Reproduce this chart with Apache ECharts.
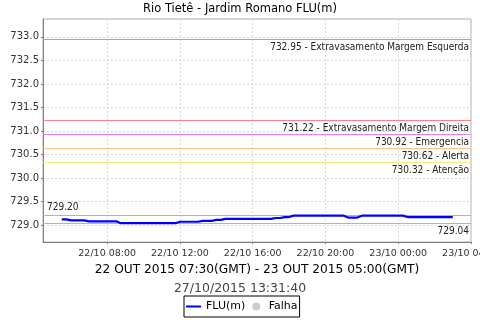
<!DOCTYPE html>
<html>
<head>
<meta charset="utf-8">
<script src="https://cdn.jsdelivr.net/npm/echarts@6/dist/echarts.min.js"></script>
<style>html,body{margin:0;padding:0;background:#fff}#c{width:480px;height:320px}</style>
</head>
<body>
<div id="c"></div>
<script>
// Hours since 22/10/2015 00:00 (local), one reading every 15 minutes
var hours = [5.5,5.75,6,6.25,6.5,6.75,7,7.25,7.5,7.75,8,8.25,8.5,8.75,9,9.25,9.5,9.75,10,10.25,10.5,10.75,11,11.25,11.5,11.75,12,12.25,12.5,12.75,13,13.25,13.5,13.75,14,14.25,14.5,14.75,15,15.25,15.5,15.75,16,16.25,16.5,16.75,17,17.25,17.5,17.75,18,18.25,18.5,18.75,19,19.25,19.5,19.75,20,20.25,20.5,20.75,21,21.25,21.5,21.75,22,22.25,22.5,22.75,23,23.25,23.5,23.75,24,24.25,24.5,24.75,25,25.25,25.5,25.75,26,26.25,26.5,26.75,27];
var levels = [729.12,729.12,
  729.10,729.10,729.10,729.10,
  729.08,729.08,729.08,729.08,729.08,729.08,729.08,
  729.04,729.04,729.04,729.04,729.04,729.04,729.04,729.04,729.04,729.04,729.04,729.04,729.04,
  729.07,729.07,729.07,729.07,729.07,
  729.09,729.09,729.09,
  729.11,729.11,
  729.13,729.13,729.13,729.13,729.13,729.13,729.13,729.13,729.13,729.13,729.13,
  729.15,729.15,
  729.17,729.17,
  729.20,729.20,729.20,729.20,729.20,729.20,729.20,729.20,729.20,729.20,729.20,729.20,
  729.16,729.16,729.16,
  729.20,729.20,729.20,729.20,729.20,729.20,729.20,729.20,729.20,729.20,
  729.17,729.17,729.17,729.17,729.17,729.17,729.17,729.17,729.17,729.17,729.17];
var xTicks = [8,12,16,20,24,28];
var yTicks = [729.0,729.5,730.0,730.5,731.0,731.5,732.0,732.5,733.0];
var thresholdValues = [732.95,731.22,730.92,730.62,730.32];
var thresholdNames = ['Extravasamento Margem Esquerda','Extravasamento Margem Direita','Emergencia','Alerta','Atenção'];
var thresholdColors = ['#ff8080','#ff8080','#f080f0','#ffc080','#ffe880'];
var maxValue = 729.20;
var minValue = 729.04;
var titleText = 'Rio Tietê - Jardim Romano FLU(m)';
var periodText = '22 OUT 2015 07:30(GMT) - 23 OUT 2015 05:00(GMT)';
var stampText = '27/10/2015 13:31:40';

var FONT = "'DejaVu Sans', sans-serif";
var MFONT = "10px 'DejaVu Sans Condensed', 'DejaVu Sans', sans-serif";
var seriesData = hours.map(function (h, i) { return [h, levels[i]]; });
function pad(n){ return (n < 10 ? '0' : '') + n; }
function fmtHour(h) {
  var day = 22 + Math.floor(h / 24);
  var hh = Math.round(h % 24);
  return day + '/10 ' + pad(hh) + ':00';
}

// reference lines: [value, label text, colour, side]
var refLines = thresholdValues.map(function (v, i) {
  return { value: [0, v], text: v.toFixed(2) + ' - ' + thresholdNames[i], color: thresholdColors[i], side: 'right' };
});
refLines.push({ value: [0, maxValue], text: maxValue.toFixed(2), color: '#b4b4b4', side: 'left' });
refLines.push({ value: [0, minValue], text: minValue.toFixed(2), color: '#b4b4b4', side: 'right' });

function renderRefLine(params, api) {
  var cs = params.coordSys;
  var item = refLines[params.dataIndex];
  var y = api.coord([4.47, api.value(1)])[1];
  var yc = Math.floor(y) + 0.5;
  var label = item.side === 'right'
    ? { type: 'text', x: cs.x + cs.width - 2, y: yc + 8,
        style: { text: item.text, font: MFONT, fill: '#222', align: 'right', verticalAlign: 'middle' } }
    : { type: 'text', x: cs.x + 4, y: yc - 8.5,
        style: { text: item.text, font: MFONT, fill: '#222', align: 'left', verticalAlign: 'middle' } };
  return {
    type: 'group',
    children: [
      { type: 'line', shape: { x1: cs.x, y1: yc, x2: cs.x + cs.width, y2: yc },
        style: { stroke: item.color, lineWidth: 1 } },
      label
    ]
  };
}

var chart = echarts.init(document.getElementById('c'), null, { renderer: 'canvas' });
chart.setOption({
  animation: false,
  backgroundColor: '#ffffff',
  title: [
    { text: titleText, left: 'center', top: 3, padding: 0,
      textStyle: { fontFamily: FONT, fontSize: 11.5, fontWeight: 'normal', color: '#000' } },
    { text: stampText, left: 'center', top: 282, padding: 0,
      textStyle: { fontFamily: FONT, fontSize: 12.5, fontWeight: 'normal', color: '#444' } }
  ],
  grid: { left: 43, right: 9, top: 19, bottom: 78, show: true, borderColor: '#b0b0b0', borderWidth: 1,
    outerBoundsMode: 'none', containLabel: false },
  legend: {
    data: [{ name: 'FLU(m)', icon: 'path://M0,0H15V2H0Z' }, { name: 'Falha', icon: 'circle' }],
    left: 184, top: 296, symbolKeepAspect: true,
    borderColor: '#000', borderWidth: 1, padding: [5, 2, 5, 2],
    itemGap: 7, itemWidth: 15, itemHeight: 8,
    textStyle: { fontFamily: FONT, fontSize: 11, color: '#000' }
  },
  xAxis: {
    type: 'value', min: 4.47, max: 28.0,
    name: periodText, nameLocation: 'middle', nameGap: 21,
    nameTextStyle: { fontFamily: FONT, fontSize: 12.2, color: '#000' },
    axisLine: { show: true, lineStyle: { color: '#808080' } },
    axisTick: { show: true, length: 2, customValues: xTicks, lineStyle: { color: '#808080' } },
    axisLabel: { customValues: xTicks, formatter: fmtHour, fontFamily: FONT, fontSize: 9.5, color: '#333', margin: 7, hideOverlap: false },
    splitLine: { show: true, lineStyle: { color: '#d8d8d8', type: [2, 2] } }
  },
  yAxis: {
    type: 'value', min: 728.64, max: 733.38,
    axisLine: { show: true, lineStyle: { color: '#808080' } },
    axisTick: { show: true, length: 2, customValues: yTicks, lineStyle: { color: '#808080' } },
    axisLabel: { customValues: yTicks, formatter: function (v) { return v.toFixed(1); },
      fontFamily: FONT, fontSize: 10, color: '#333', margin: 4 },
    splitLine: { show: true, lineStyle: { color: '#d8d8d8', type: [2, 2] } }
  },
  series: [
    { name: 'refs', type: 'custom', renderItem: renderRefLine, clip: false, silent: true, z: 2,
      data: refLines.map(function (r) { return r.value; }), encode: { x: 0, y: 1 } },
    { name: 'FLU(m)', type: 'line', data: seriesData, symbol: 'none', z: 4,
      lineStyle: { color: '#0000ff', width: 2.2 }, itemStyle: { color: '#0000ff' } },
    { name: 'Falha', type: 'scatter', data: [], symbol: 'circle', itemStyle: { color: '#c0c0c0' } }
  ]
});
</script>
</body>
</html>
